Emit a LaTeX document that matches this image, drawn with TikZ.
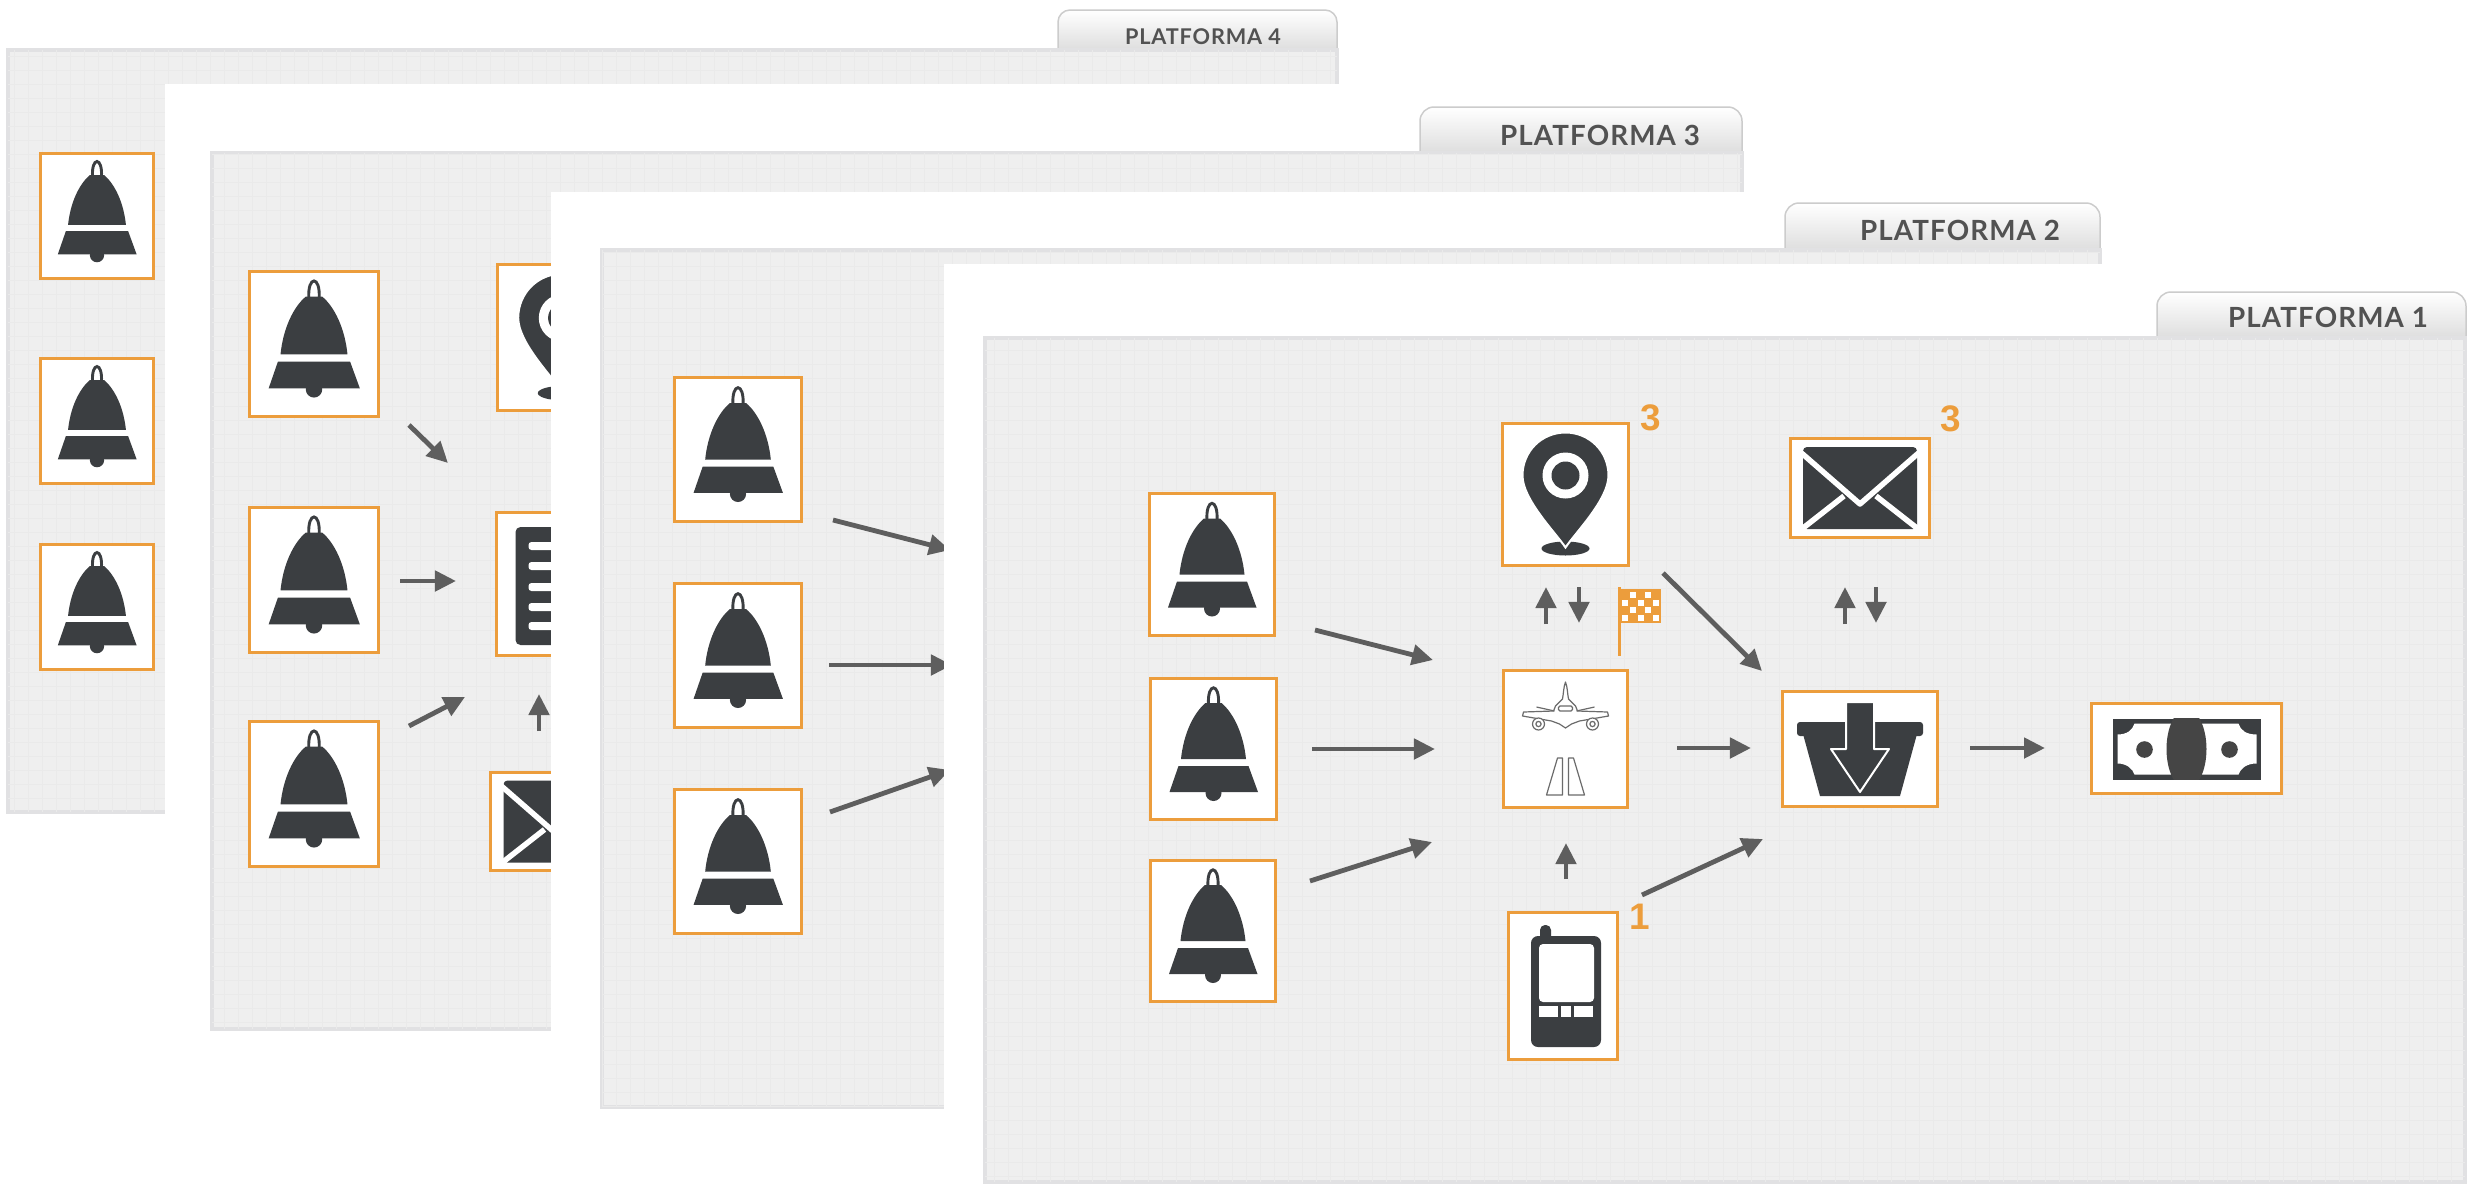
\documentclass[tikz,border=0pt]{standalone}
\usepackage{fontspec}
\usetikzlibrary{arrows.meta}
\newfontfamily\tabfont[LetterSpace=4]{Lato}
\newfontfamily\numfont{Liberation Sans}
\definecolor{boxorange}{HTML}{EC9D3C}
\definecolor{icondark}{HTML}{3B3E41}
\definecolor{arrowgrey}{HTML}{5E5E5E}
\definecolor{paperfill}{HTML}{EFEFEF}
\definecolor{paperline}{HTML}{EAEAEA}
\definecolor{paperedge}{HTML}{E1E1E3}
\tikzset{
    iconbox/.style 2 args={draw=boxorange, fill=white, line width=0.03cm, minimum width=#1, minimum height=#2, inner sep=0pt},
    flowarrow/.style={draw=arrowgrey, line width=0.048cm, -{Triangle[length=0.21cm, width=0.2cm]}},
    papersheet/.style={fill=paperfill, draw=paperedge, line width=0.04cm},
    papergrid/.style={draw=paperline, line width=0.01cm},
    tabshade/.style={top color=white, bottom color=black!13, draw=black!20, line width=0.015cm},
    tablabel/.style={text=black!68, font=\tabfont\bfseries\fontsize{7.9}{10}\selectfont},
    countlabel/.style={text=boxorange, font=\numfont\bfseries\fontsize{10.5}{12}\selectfont},
    iconbell/.pic={
        \draw[icondark, line width=0.029cm] (-5,-44) .. controls (-6.5,-67) and (6.5,-67) .. (5,-44);
        \fill[icondark] (-32.5,10) .. controls (-30,-15) and (-20,-36) .. (-8,-46) -- (8,-46) .. controls (20,-36) and (30,-15) .. (32.5,10) -- cycle;
        \fill[icondark] (-35,17) -- (35,17) -- (44.5,43) -- (-44,43) -- cycle;
        \fill[icondark] (0,44) circle (8);
    },
    iconpin/.pic={
        \fill[icondark] (0,54) ellipse (24 and 7);
        \fill[icondark, draw=white, line width=0.02cm] (0,53) .. controls (-10,38) and (-43,5) .. (-43,-19) .. controls (-43,-43) and (-24,-62) .. (0,-62) .. controls (24,-62) and (43,-43) .. (43,-19) .. controls (43,5) and (10,38) .. (0,53) -- cycle;
        \fill[white] (0,-19) circle (23);
        \fill[icondark] (0,-19) circle (14);
    },
    iconmail/.pic={
        \fill[icondark, rounded corners=0.04cm] (-57,-41) rectangle (57,41);
        \draw[white, line width=0.055cm, line join=round] (-62,-38) -- (0,16) -- (62,-38);
        \draw[white, line width=0.055cm] (-62,44) -- (-16,8);
        \draw[white, line width=0.055cm] (62,44) -- (16,8);
    },
    iconbasket/.pic={
        \fill[icondark, rounded corners=0.03cm] (-63,-27) rectangle (63,-13);
        \fill[icondark] (-57,-15) -- (57,-15) -- (40,47) -- (-40,47) -- cycle;
        \fill[icondark, draw=white, line width=0.02cm, line join=round] (-14,-47) -- (14,-47) -- (14,0) -- (29,0) -- (0,43) -- (-29,0) -- (-14,0) -- cycle;
    },
    iconmoney/.pic={
        \fill[icondark] (-74,-30) rectangle (74,31);
        \fill[white] (-52,-25) -- (52,-25) .. controls (54,-18) and (60,-14) .. (70,-14) -- (70,15) .. controls (60,15) and (54,20) .. (52,26) -- (-52,26) .. controls (-54,20) and (-60,15) .. (-69,15) -- (-69,-14) .. controls (-60,-14) and (-54,-18) .. (-52,-25) -- cycle;
        \begin{scope}
            \clip (-74,-30) rectangle (74,31);
            \fill[black!73] (0,0.5) ellipse (20 and 40);
        \end{scope}
        \fill[black!73] (-42,1) circle (8.3);
        \fill[black!73] (43,1) circle (8.3);
    },
    iconphone/.pic={
        \fill[icondark, rounded corners=0.05cm] (-23,-61) rectangle (-12,-40);
        \fill[icondark, rounded corners=0.07cm] (-32,-50) rectangle (38,61);
        \fill[white, rounded corners=0.04cm] (-24,-42) rectangle (31,16);
        \fill[white] (-24,20) rectangle (-5,31);
        \fill[white] (-2,20) rectangle (8,31);
        \fill[white] (11,20) rectangle (30,31);
    },
    iconlist/.pic={
        \fill[icondark, rounded corners=0.05cm] (-46,-57) rectangle (48,61);
        \foreach \ybar in {-38,-18,3,23,42} {
            \fill[white, rounded corners=0.03cm] (-33,\ybar-4) rectangle (35,\ybar+4);
        }
    },
    iconplane/.pic={
        \draw[black!58, line width=0.012cm, line join=round] (0,-57) .. controls (-2,-52) and (-2,-45) .. (-3,-40) -- (-10,-33) -- (-12,-28) -- (-42,-27) -- (-43,-23) -- (-14,-18) -- (-6,-15) -- (0,-11) -- (6,-15) -- (14,-18) -- (43,-23) -- (42,-27) -- (12,-28) -- (10,-33) -- (3,-40) .. controls (2,-45) and (2,-52) .. (0,-57) -- cycle;
        \draw[black!58, line width=0.012cm] (-29,-32) -- (-11,-28);
        \draw[black!58, line width=0.012cm] (29,-32) -- (11,-28);
        \draw[black!58, line width=0.012cm, rounded corners=0.015cm] (-7,-33) rectangle (7,-28);
        \foreach \xeng in {-27,27} {
            \fill[white, draw=black!58, line width=0.012cm] (\xeng,-15) circle (6);
            \draw[black!58, line width=0.012cm] (\xeng,-15) circle (2.6);
        }
        \draw[black!58, line width=0.012cm, line join=round] (-8,19) -- (-3,19) -- (-3,56) -- (-19,56) -- cycle;
        \draw[black!58, line width=0.012cm, line join=round] (8,19) -- (3,19) -- (3,56) -- (19,56) -- cycle;
    }
}
\begin{document}
\begin{tikzpicture}[x=0.01cm, y=-0.01cm]
    \useasboundingbox (0,0) rectangle (2468,1184);
    \fill[white] (0,0) rectangle (2468,1184);

    % platforma 4
    \path[tabshade] (1058,50) {[rounded corners=0.12cm] -- (1058,10) -- (1337,10)} -- (1337,50) -- cycle;
    \node[tablabel, scale=0.78] (tabFour) at (1203,37) {PLATFORMA 4};
    \path[papersheet] (8,50) rectangle (1337,812);
    \draw[papergrid] (8,50) grid[step=0.14cm] (1337,812);
    \node[iconbox={1.12cm}{1.25cm}] (bellFourA) at (97,216) {};
    \node[iconbox={1.12cm}{1.25cm}] (bellFourB) at (97,421) {};
    \node[iconbox={1.12cm}{1.25cm}] (bellFourC) at (97,607) {};
    \pic[scale=0.89] at (bellFourA) {iconbell};
    \pic[scale=0.89] at (bellFourB) {iconbell};
    \pic[scale=0.89] at (bellFourC) {iconbell};

    % platforma 3
    \fill[white] (165,84) rectangle (1742,1184);
    \path[tabshade] (1420,153) {[rounded corners=0.14cm] -- (1420,107) -- (1742,107)} -- (1742,153) -- cycle;
    \node[tablabel] (tabThree) at (1600,135) {PLATFORMA 3};
    \path[papersheet] (212,153) rectangle (1742,1029);
    \draw[papergrid] (212,153) grid[step=0.14cm] (1742,1029);
    \node[iconbox={1.29cm}{1.45cm}] (bellThreeA) at (314,344) {};
    \node[iconbox={1.29cm}{1.45cm}] (bellThreeB) at (314,580) {};
    \node[iconbox={1.29cm}{1.45cm}] (bellThreeC) at (314,794) {};
    \node[iconbox={1.29cm}{1.45cm}] (pinThree) at (562.5,337.5) {};
    \node[iconbox={1.29cm}{1.42cm}] (listThree) at (561.5,584) {};
    \node[iconbox={1.39cm}{0.98cm}] (mailThree) at (560.5,821.5) {};
    \pic[scale=1.03] at (bellThreeA) {iconbell};
    \pic[scale=1.03] at (bellThreeB) {iconbell};
    \pic[scale=1.03] at (bellThreeC) {iconbell};
    \pic[scale=1.03] at (pinThree) {iconpin};
    \pic at (listThree) {iconlist};
    \pic at (mailThree) {iconmail};
    \path ([shift={(95,81)}]bellThreeA.center) edge[flowarrow] ([shift={(-113.5,-121)}]listThree.center);
    \path ([shift={(86,1)}]bellThreeB.center) edge[flowarrow] ([shift={(-105.5,-3)}]listThree.center);
    \path ([shift={(95,-68)}]bellThreeC.center) edge[flowarrow] ([shift={(-96.5,113)}]listThree.center);
    \path ([shift={(-21.5,-90.5)}]mailThree.center) edge[flowarrow] ([shift={(-22.5,110)}]listThree.center);

    % platforma 2
    \fill[white] (551,192) rectangle (2100,1184);
    \path[tabshade] (1785,250) {[rounded corners=0.14cm] -- (1785,203) -- (2100,203)} -- (2100,250) -- cycle;
    \node[tablabel] (tabTwo) at (1960,230) {PLATFORMA 2};
    \path[papersheet] (602,250) rectangle (2100,1107);
    \draw[papergrid] (602,250) grid[step=0.14cm] (2100,1107);
    \node[iconbox={1.26cm}{1.43cm}] (bellTwoA) at (738,449.5) {};
    \node[iconbox={1.26cm}{1.43cm}] (bellTwoB) at (738,655.5) {};
    \node[iconbox={1.26cm}{1.43cm}] (bellTwoC) at (738,861.5) {};
    \pic[scale=1.01] at (bellTwoA) {iconbell};
    \pic[scale=1.01] at (bellTwoB) {iconbell};
    \pic[scale=1.01] at (bellTwoC) {iconbell};
    \coordinate (hubTwoA) at (950,550);
    \coordinate (hubTwoB) at (952,665);
    \coordinate (hubTwoC) at (950,770);
    \path ([shift={(95,70.5)}]bellTwoA.center) edge[flowarrow] (hubTwoA);
    \path ([shift={(91,9.5)}]bellTwoB.center) edge[flowarrow] (hubTwoB);
    \path ([shift={(92,-49.5)}]bellTwoC.center) edge[flowarrow] (hubTwoC);

    % platforma 1
    \fill[white] (944,264) rectangle (2468,1184);
    \path[tabshade] (2157,338) {[rounded corners=0.14cm] -- (2157,292) -- (2466,292)} -- (2466,338) -- cycle;
    \node[tablabel] (tabOne) at (2328,317) {PLATFORMA 1};
    \path[papersheet] (985,338) rectangle (2465,1182);
    \draw[papergrid] (985,338) grid[step=0.14cm] (2465,1182);
    \node[iconbox={1.25cm}{1.41cm}] (bellA) at (1212,564.5) {};
    \node[iconbox={1.25cm}{1.41cm}] (bellB) at (1213.5,749) {};
    \node[iconbox={1.25cm}{1.41cm}] (bellC) at (1213,931) {};
    \node[iconbox={1.25cm}{1.41cm}] (pin) at (1565.5,494.5) {};
    \node[iconbox={1.23cm}{1.36cm}] (gate) at (1565.5,739) {};
    \node[iconbox={1.08cm}{1.46cm}] (phone) at (1563,986) {};
    \node[iconbox={1.39cm}{0.98cm}] (mail) at (1860,488) {};
    \node[iconbox={1.54cm}{1.14cm}] (basket) at (1860,749) {};
    \node[iconbox={1.89cm}{0.89cm}] (money) at (2186.5,748.5) {};
    \pic at (bellA) {iconbell};
    \pic at (bellB) {iconbell};
    \pic at (bellC) {iconbell};
    \pic at (pin) {iconpin};
    \pic at (gate) {iconplane};
    \pic at (phone) {iconphone};
    \pic at (mail) {iconmail};
    \pic at (basket) {iconbasket};
    \pic at (money) {iconmoney};
    \node[countlabel] (pinCount) at (1651,418) {3};
    \node[countlabel] (mailCount) at (1951,419) {3};
    \node[countlabel] (phoneCount) at (1640,917) {1};
    % finish flag
    \fill[boxorange] (1617.5,587) rectangle (1621,656);
    \fill[boxorange] (1619,589) rectangle (1661,623);
    \foreach \xcell/\ycell in {1633/595,1648/595,1625/603,1641/603,1656/603,1633/610,1648/610,1625/618,1641/618,1656/618} {
        \fill[white] (\xcell-3.2,\ycell-3.2) rectangle (\xcell+3.2,\ycell+3.2);
    }
    \path ([shift={(103,65.5)}]bellA.center) edge[flowarrow] ([shift={(-132.5,-79)}]gate.center);
    \path ([shift={(98.5,0)}]bellB.center) edge[flowarrow] ([shift={(-130.5,10)}]gate.center);
    \path ([shift={(97,-50)}]bellC.center) edge[flowarrow] ([shift={(-133.5,103)}]gate.center);
    \path ([shift={(111.5,9)}]gate.center) edge[flowarrow] ([shift={(-109,-1)}]basket.center);
    \path ([shift={(110,-1)}]basket.center) edge[flowarrow] ([shift={(-141.5,-0.5)}]money.center);
    \path ([shift={(97.5,78.5)}]pin.center) edge[flowarrow] ([shift={(-98,-78)}]basket.center);
    \path ([shift={(79,-91)}]phone.center) edge[flowarrow] ([shift={(-97,90)}]basket.center);
    \path ([shift={(3,-107)}]phone.center) edge[flowarrow] ([shift={(0.5,104)}]gate.center);
    \path ([shift={(-19.5,-115)}]gate.center) edge[flowarrow] ([shift={(-19.5,92.5)}]pin.center);
    \path ([shift={(13.5,92.5)}]pin.center) edge[flowarrow] ([shift={(13.5,-116)}]gate.center);
    \path ([shift={(-15,-125)}]basket.center) edge[flowarrow] ([shift={(-15,99)}]mail.center);
    \path ([shift={(16,99)}]mail.center) edge[flowarrow] ([shift={(16,-126)}]basket.center);
\end{tikzpicture}
\end{document}
